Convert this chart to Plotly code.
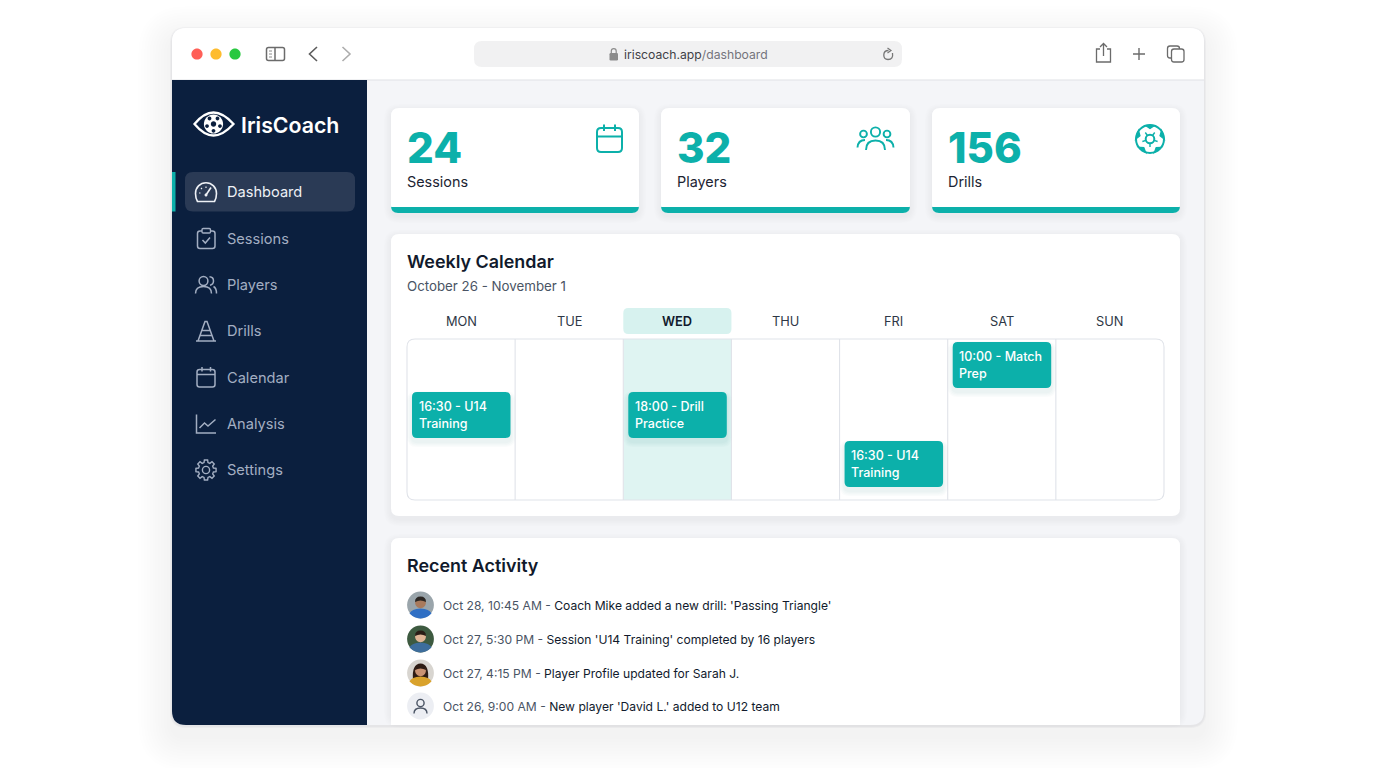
import math
import plotly.graph_objects as go

# ---------- content ----------
brand = "IrisCoach"
url_host = "iriscoach.app"
url_path = "/dashboard"
nav_labels = ["Dashboard", "Sessions", "Players", "Drills", "Calendar", "Analysis", "Settings"]
stat_values = ["24", "32", "156"]
stat_labels = ["Sessions", "Players", "Drills"]
calendar_title = "Weekly Calendar"
calendar_range = "October 26 - November 1"
days = ["MON", "TUE", "WED", "THU", "FRI", "SAT", "SUN"]
today = "WED"
event_days = ["MON", "WED", "FRI", "SAT"]
event_line1 = ["16:30 - U14", "18:00 - Drill", "16:30 - U14", "10:00 - Match"]
event_line2 = ["Training", "Practice", "Training", "Prep"]
activity_title = "Recent Activity"
activity_times = ["Oct 28, 10:45 AM", "Oct 27, 5:30 PM", "Oct 27, 4:15 PM", "Oct 26, 9:00 AM"]
activity_texts = ["Coach Mike added a new drill: 'Passing Triangle'",
                  "Session 'U14 Training' completed by 16 players",
                  "Player Profile updated for Sarah J.",
                  "New player 'David L.' added to U12 team"]

# ---------- palette ----------
TEAL = "#0cb0aa"
NAVY = "#0b1f3e"
FONT = "Inter"
shapes, notes = [], []


def rr(x0, y0, x1, y1, r=0, corners=(1, 1, 1, 1)):
    a, b, c, d = [r * k for k in corners]
    return (f"M{x0+a} {y0}L{x1-b} {y0}Q{x1} {y0} {x1} {y0+b}L{x1} {y1-c}Q{x1} {y1} {x1-c} {y1}"
            f"L{x0+d} {y1}Q{x0} {y1} {x0} {y1-d}L{x0} {y0+a}Q{x0} {y0} {x0+a} {y0}Z")


def circ(cx, cy, r):
    k = 0.5523 * r
    return (f"M{cx-r} {cy}C{cx-r} {cy-k} {cx-k} {cy-r} {cx} {cy-r}C{cx+k} {cy-r} {cx+r} {cy-k} {cx+r} {cy}"
            f"C{cx+r} {cy+k} {cx+k} {cy+r} {cx} {cy+r}C{cx-k} {cy+r} {cx-r} {cy+k} {cx-r} {cy}Z")


def add(path, fill=None, line=None, w=1.5):
    shapes.append(dict(type="path", path=path, xref="x", yref="y", layer="above",
                       fillcolor=fill if fill else "rgba(0,0,0,0)",
                       line=dict(color=line if line else "rgba(0,0,0,0)", width=w if line else 0)))


def shadow(x0, y0, x1, y1, r, dy, spread, alpha, steps=6, color="20,35,60"):
    for i in range(steps, 0, -1):
        e = spread * i / steps
        add(rr(x0 - e, y0 - e + dy, x1 + e, y1 + e + dy, r + e), fill=f"rgba({color},{alpha})")


def text(x, y, s, size, color, weight=400, anchor="left"):
    notes.append(dict(x=x, y=y, text=s, xref="x", yref="y", showarrow=False, xanchor=anchor, yanchor="middle",
                      borderpad=0, borderwidth=0, align="left",
                      font=dict(family=FONT, size=size, color=color, weight=weight)))


# ---------- window ----------
WX0, WY0, WX1, WY1 = 172, 28, 1204, 725
shadow(WX0, WY0, WX1, WY1, 14, 12, 34, 0.0045, steps=12)
shadow(WX0, WY0, WX1, WY1, 14, 1, 2, 0.03, steps=2)
add(rr(WX0, WY0, WX1, WY1, 14), fill="#f4f5f8")
add(rr(WX0, WY0, WX1, 80, 14, (1, 1, 0, 0)), fill="#ffffff")
add(f"M{WX0} 80L{WX1} 80", line="#dfe1e5", w=1)

# traffic lights
for cx, col in zip((197, 216, 235), ("#ff5f57", "#febc2e", "#28c840")):
    add(circ(cx, 54, 5.6), fill=col)
# toolbar icons
add(rr(266.5, 47.5, 284.5, 60.5, 2), line="#6b6b6b", w=1.5)
add("M275 47.5L275 60.5", line="#6b6b6b", w=1.5)
add("M269 51L272 51M269 54L272 54M269 57L272 57", line="#8a8a8a", w=1)
add("M317 47L309.5 54L317 61", line="#5c5c5c", w=1.6)
add("M342.5 47L350 54L342.5 61", line="#adadad", w=1.6)
add(rr(474, 41, 902, 67, 8), fill="#f1f1f2")
add(rr(609.5, 53, 618, 60.5, 1.2), fill="#8c8c8c")
add("M611.3 53L611.3 51Q611.3 48.6 613.8 48.6Q616.2 48.6 616.2 51L616.2 53", line="#8c8c8c", w=1.2)
text(623.5, 54.5, f'<span style="color:#3f3f46">{url_host}</span><span style="color:#74747c">{url_path}</span>', 12.2, "#555")
add("M892.5 53Q893.5 59.5 888 59.5Q883.8 59.5 883.8 55Q883.8 50.5 888.5 50.5", line="#777", w=1.3)
add("M887.5 48L891 50.5L887.5 53", line="#777", w=1.2)
add("M1100 49L1096.5 49L1096.5 62L1110.5 62L1110.5 49L1107 49", line="#6b6b6b", w=1.3)
add("M1103.5 56L1103.5 44M1100 47L1103.5 43.5L1107 47", line="#6b6b6b", w=1.3)
add("M1139 48L1139 60M1133 54L1145 54", line="#6b6b6b", w=1.4)
add(rr(1167.5, 46, 1179.5, 58, 2.5), line="#6b6b6b", w=1.3)
add(rr(1171.5, 49, 1184, 62, 2.5), fill="#ffffff", line="#6b6b6b", w=1.3)

# ---------- sidebar ----------
add(rr(WX0, 80, 367, WY1, 14, (0, 0, 0, 1)), fill=NAVY)
# logo
add("M194.5 124Q204 112.5 213.5 112.5Q223 112.5 233.5 124Q223 135.5 213.5 135.5Q204 135.5 194.5 124Z", line="#ffffff", w=2.3)
add(circ(213.5, 124, 9.6), fill="#ffffff")
add(circ(213.5, 124, 2.7), fill=NAVY)
for a in range(5):
    t = math.radians(-90 + 72 * a + 36)
    add(circ(213.5 + 6.8 * math.cos(t), 124 + 6.8 * math.sin(t), 1.9), fill=NAVY)
text(240.5, 124.5, brand, 21.3, "#ffffff", 600)
# active item
add(rr(185, 172, 355, 211.5, 8), fill="#2a3a55")
add(rr(172, 172, 175.5, 211.5, 0), fill=TEAL)
nav_y = [192, 238.5, 285, 331, 377.5, 424, 470]
for i, (lab, y) in enumerate(zip(nav_labels, nav_y)):
    text(227, y, lab, 14.6, "#eef1f6" if i == 0 else "#a3aec2")
NC = "#a3aec2"
# gauge
add("M197.5 201.5Q195.5 198 195.5 193.5C195.5 187.5 200 182.8 206 182.8C212 182.8 216.5 187.5 216.5 193.5Q216.5 198 214.5 201.5Z", line="#eef1f6", w=1.6)
add("M206 195L211 187.5", line="#eef1f6", w=1.6)
add("M199 193L200.5 193M206 186.5L206 188M201 188L202 189", line="#eef1f6", w=1.2)
add(circ(206, 195, 1.5), fill="#eef1f6")
# sessions
add(rr(197.5, 231, 215, 248.5, 2.5), line=NC)
add(rr(202, 228.5, 210.5, 233, 1.2), fill=NAVY, line=NC, w=1.4)
add("M202.5 240L205.3 243L210 237.5", line=NC)
# players
add(circ(203.5, 281, 4.4), line=NC)
add("M195.5 293.5Q195.5 286.5 203.5 286.5Q211.5 286.5 211.5 293.5", line=NC)
add("M209.5 276.8Q213.5 277 213.5 281Q213.5 284.5 210 285.2M213.5 286.5Q216.5 288 216.5 293.5", line=NC)
# cone
add("M196 341L216 341M198 341L205 321.5L207 321.5L214 341M201.7 330.5L210.3 330.5M200 335.5L212 335.5", line=NC)
# calendar
add(rr(197, 369.5, 215, 387, 2.5), line=NC)
add("M197 374.5L215 374.5M202 367L202 371.5M210.5 367L210.5 371.5", line=NC)
# analysis
add("M196.5 414.5L196.5 433L216 433M199.5 428L204.5 423L208 426L215.5 419.5", line=NC)
# settings gear
cx, cy = 206, 470
pts = []
for k in range(8):
    c = math.radians(45 * k)
    for da, rad in ((-15, 7.7), (-9, 10.2), (9, 10.2), (15, 7.7)):
        t = c + math.radians(da)
        pts.append((cx + rad * math.cos(t), cy + rad * math.sin(t)))
add("M" + "L".join(f"{a:.2f} {b:.2f}" for a, b in pts) + "Z", line=NC, w=1.4)
add(circ(cx, cy, 3.6), line=NC, w=1.4)


# ---------- cards ----------
def card(x0, y0, x1, y1, corners=(1, 1, 1, 1)):
    shadow(x0, y0, x1, min(y1, 718), 8, 3, 7, 0.006, steps=5)
    add(rr(x0, y0, x1, y1, 8, corners), fill="#ffffff")


stat_x = [(391, 639), (661, 910), (932, 1180)]
for (x0, x1), v, l in zip(stat_x, stat_values, stat_labels):
    card(x0, 108, x1, 213)
    add(rr(x0, 207, x1, 213, 7, (0, 0, 1, 1)), fill=TEAL)
    text(x0 + 16, 147, v, 42, TEAL, 800)
    text(x0 + 16, 181.5, l, 14.4, "#1c2433")
# stat icons
add(rr(597, 128, 622, 152, 4), line=TEAL, w=2)
add("M597 136.5L622 136.5M604 124.5L604 131M615 124.5L615 131", line=TEAL, w=2)
add(circ(875.5, 132, 4.6), line=TEAL, w=1.9)
add(circ(863.5, 134, 3.4), line=TEAL, w=1.9)
add(circ(887, 134, 3.4), line=TEAL, w=1.9)
add("M866 150Q866 140.5 875.5 140.5Q885 140.5 885 150", line=TEAL, w=1.9)
add("M857.5 147.5Q858 140 865 140M893.5 147.5Q893 140 886 140", line=TEAL, w=1.9)
BX, BY = 1150, 139
add(circ(BX, BY, 14), line=TEAL, w=2)
add(circ(BX, BY, 4.3), line=TEAL, w=2)
for a in range(5):
    t = math.radians(-90 + 72 * a)
    ux, uy = math.cos(t), math.sin(t)
    vx, vy = -uy, ux
    # rim patch
    add(f"M{BX+13.5*ux-4.5*vx:.2f} {BY+13.5*uy-4.5*vy:.2f}L{BX+10.5*ux:.2f} {BY+10.5*uy:.2f}"
        f"L{BX+13.5*ux+4.5*vx:.2f} {BY+13.5*uy+4.5*vy:.2f}Z", fill=TEAL, line=TEAL, w=1.2)
    # spoke
    t2 = t + math.radians(36)
    add(f"M{BX+4.3*math.cos(t2):.2f} {BY+4.3*math.sin(t2):.2f}L{BX+8*math.cos(t2):.2f} {BY+8*math.sin(t2):.2f}", line=TEAL, w=1.4)

# calendar card
card(391, 234, 1180, 516)
text(407, 261.5, calendar_title, 17.9, "#111a2c", 600)
text(407, 285.5, calendar_range, 13.3, "#4a5464")
GX0, GX1, GY0, GY1 = 407, 1164, 339, 500
col = (GX1 - GX0) / len(days)
day_x = {d: GX0 + col * i for i, d in enumerate(days)}
tx = day_x[today]
add(rr(tx, 308, tx + col, 334, 5), fill="#d7f2ef")
add(rr(tx, GY0, tx + col, GY1, 0), fill="#dff4f2")
add(rr(GX0, GY0, GX1, GY1, 8), line="#e0e3e9", w=1.1)
for i in range(1, len(days)):
    x = GX0 + col * i
    add(f"M{x} {GY0}L{x} {GY1}", line="#e0e3e9", w=1.1)
for d in days:
    text(day_x[d] + col / 2, 321, d, 12.8, "#111a2c" if d == today else "#2e3746", 600 if d == today else 400, "center")
event_top = [392, 392, 441, 342]
for d, a, b, top in zip(event_days, event_line1, event_line2, event_top):
    x0 = day_x[d] + 5
    x1 = x0 + 98.5
    shadow(x0, top, x1, top + 46, 5, 4, 5, 0.02, steps=4, color="12,90,90")
    add(rr(x0, top, x1, top + 46, 5), fill=TEAL)
    text(x0 + 6.5, top + 14.5, a, 12.5, "#ffffff", 500)
    text(x0 + 6.5, top + 31.5, b, 12.5, "#ffffff", 500)

# activity card
card(391, 538, 1180, 725, (1, 1, 0, 0))
text(407, 565.5, activity_title, 17.9, "#111a2c", 600)
row_y = [605, 639, 673, 706]
for t, s, y in zip(activity_times, activity_texts, row_y):
    text(443, y, f'<span style="color:#4a5464">{t} - </span><span style="color:#111a2c">{s}</span>', 12.1, "#111a2c")
AX = 420.5
R = 13.4


def avatar(y, bg, shirt, skin, hair, long_hair=False):
    add(circ(AX, y, R), fill=bg)
    if long_hair:
        add(f"M{AX-7.5} {y+7}Q{AX-9} {y-9} {AX} {y-9.5}Q{AX+9} {y-9} {AX+7.5} {y+7}Z", fill=hair)
    add(f"M{AX-11} {y+8.5}Q{AX-9} {y+4} {AX} {y+3.5}Q{AX+9} {y+4} {AX+11} {y+8.5}Q{AX+6} {y+13.4} {AX} {y+13.4}Q{AX-6} {y+13.4} {AX-11} {y+8.5}Z", fill=shirt)
    add(circ(AX, y - 2.2, 5.4), fill=skin)
    add(f"M{AX-5.5} {y-3}Q{AX-5.5} {y-8.5} {AX} {y-8.5}Q{AX+5.5} {y-8.5} {AX+5.5} {y-3}Q{AX} {y-6} {AX-5.5} {y-3}Z", fill=hair)


avatar(row_y[0], "#9aa5ab", "#2f6fc4", "#a97a5c", "#2b2622")
avatar(row_y[1], "#3d5a40", "#3d6d9c", "#e0b596", "#2a1d16")
avatar(row_y[2], "#d8d5d0", "#d9a22c", "#c99272", "#2e1c14", long_hair=True)
add(circ(AX, row_y[3], R), fill="#eceef3")
add(circ(AX, row_y[3] - 3, 3.6), line="#4a5464", w=1.4)
add(f"M{AX-6.5} {row_y[3]+7.5}Q{AX-6.5} {row_y[3]+2} {AX} {row_y[3]+2}Q{AX+6.5} {row_y[3]+2} {AX+6.5} {row_y[3]+7.5}", line="#4a5464", w=1.4)

# ---------- figure ----------
fig = go.Figure()
fig.update_layout(
    width=1376, height=768, autosize=False,
    margin=dict(l=0, r=0, t=0, b=0, pad=0),
    paper_bgcolor="#ffffff", plot_bgcolor="#ffffff", showlegend=False,
    xaxis=dict(range=[0, 1376], visible=False, fixedrange=True),
    yaxis=dict(range=[768, 0], visible=False, fixedrange=True),
    shapes=shapes, annotations=notes, font=dict(family=FONT),
)
fig.write_html("out.html", config=dict(displayModeBar=False),
               post_script="document.body.style.margin='0';document.body.style.overflow='hidden';")
